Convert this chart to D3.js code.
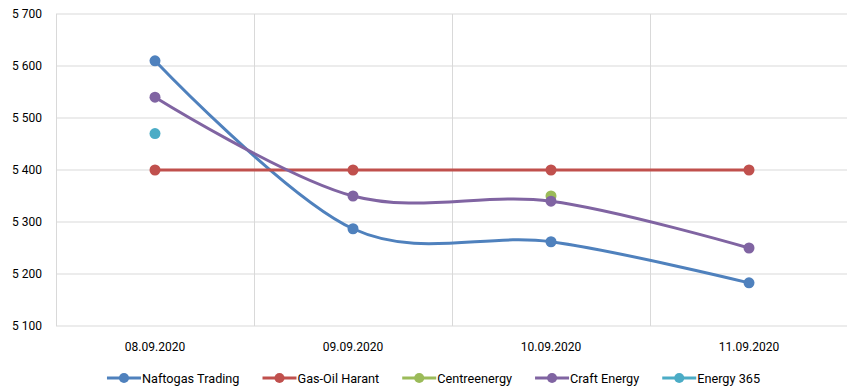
<!DOCTYPE html>
<html>
<head>
<meta charset="utf-8">
<script src="https://cdn.jsdelivr.net/npm/d3@7"></script>
<style>
  html, body { margin: 0; padding: 0; background: #fff; }
  svg { display: block; font-family: Roboto, "Liberation Sans", sans-serif; }
</style>
</head>
<body>
<svg id="chart" width="847" height="390"></svg>
<script>
// Dates on the category axis
const dates = ["08.09.2020", "09.09.2020", "10.09.2020", "11.09.2020"];

// Price offers per trader (null = no offer that day)
const naftogas     = [5610, 5287, 5262, 5183];
const gasOilHarant = [5400, 5400, 5400, 5400];
const centreenergy = [null, null, 5350, null];
const craftEnergy  = [5540, 5350, 5340, 5250];
const energy365    = [5470, null, null, null];

// Value axis ticks
const yTicks = [5100, 5200, 5300, 5400, 5500, 5600, 5700];

const seriesNames  = ["Naftogas Trading", "Gas-Oil Harant", "Centreenergy", "Craft Energy", "Energy 365"];
const seriesColors = ["#4f81bd", "#c0504d", "#9bbb59", "#8064a2", "#4bacc6"];
const seriesValues = [naftogas, gasOilHarant, centreenergy, craftEnergy, energy365];

const series = seriesNames.map((name, i) => ({
  name, color: seriesColors[i],
  points: dates.map((d, j) => ({ date: d, value: seriesValues[i][j] }))
}));

const svg = d3.select("#chart");
const plot = { left: 56, right: 848, top: 14, bottom: 326 };

const x = d3.scaleBand().domain(dates).range([plot.left, plot.right]);
const y = d3.scaleLinear().domain([5100, 5700]).range([plot.bottom, plot.top]);
const cx = d => x(d) + x.bandwidth() / 2;

const grid = "#d9d9d9";

// Horizontal gridlines
svg.append("g").selectAll("line").data(yTicks).join("line")
  .attr("x1", plot.left).attr("x2", plot.right)
  .attr("y1", d => y(d)).attr("y2", d => y(d))
  .attr("stroke", grid).attr("stroke-width", 1);

// Vertical gridlines at category boundaries, plus the left axis line
const bounds = dates.map(d => x(d));
svg.append("g").selectAll("line").data(bounds).join("line")
  .attr("x1", d => Math.round(d) + 0.5).attr("x2", d => Math.round(d) + 0.5)
  .attr("y1", plot.top).attr("y2", plot.bottom)
  .attr("stroke", grid).attr("stroke-width", 1);

// Value axis labels
const yAxis = d3.axisLeft(y).tickValues(yTicks).tickSize(0).tickPadding(14)
  .tickFormat(d => d3.format(",")(d).replace(",", " "));
svg.append("g").attr("transform", `translate(${plot.left},0)`).call(yAxis)
  .call(g => g.select(".domain").remove())
  .selectAll("text").attr("font-size", 12).attr("fill", "#000")
  .attr("font-family", "Roboto, sans-serif");

// Category axis labels
const xAxis = d3.axisBottom(x).tickSize(0).tickPadding(16);
svg.append("g").attr("transform", `translate(0,${plot.bottom})`).call(xAxis)
  .call(g => g.select(".domain").remove())
  .selectAll("text").attr("font-size", 12).attr("fill", "#000")
  .attr("font-family", "Roboto, sans-serif");

// Smoothed lines and markers
const line = d3.line()
  .defined(p => p.value != null)
  .x(p => cx(p.date)).y(p => y(p.value))
  .curve(d3.curveCardinal.tension(0));

const sg = svg.append("g").selectAll("g").data(series).join("g");
sg.append("path")
  .attr("d", s => line(s.points))
  .attr("fill", "none")
  .attr("stroke", s => s.color)
  .attr("stroke-width", 3)
  .attr("stroke-linejoin", "round");
sg.each(function (s) {
  d3.select(this).selectAll("circle")
    .data(s.points.filter(p => p.value != null)).join("circle")
    .attr("cx", p => cx(p.date)).attr("cy", p => y(p.value))
    .attr("r", 5.5).attr("fill", s.color);
});

// Legend
const legend = svg.append("g");
const items = legend.selectAll("g").data(series).join("g");
items.append("line").attr("x1", 0).attr("x2", 34).attr("y1", 0).attr("y2", 0)
  .attr("stroke", s => s.color).attr("stroke-width", 3);
items.append("circle").attr("cx", 17).attr("cy", 0).attr("r", 5).attr("fill", s => s.color);
items.append("text").attr("x", 35).attr("y", 4.6)
  .attr("font-size", 12.7).attr("fill", "#000").text(s => s.name);

let offset = 0;
const positions = [];
items.each(function () {
  const w = this.querySelector("text").getComputedTextLength();
  positions.push(offset);
  offset += 35 + w + 23;
});
const totalW = offset - 23;
const startX = 433.5 - totalW / 2;
items.attr("transform", (d, i) => `translate(${startX + positions[i]},378)`);
</script>
</body>
</html>
